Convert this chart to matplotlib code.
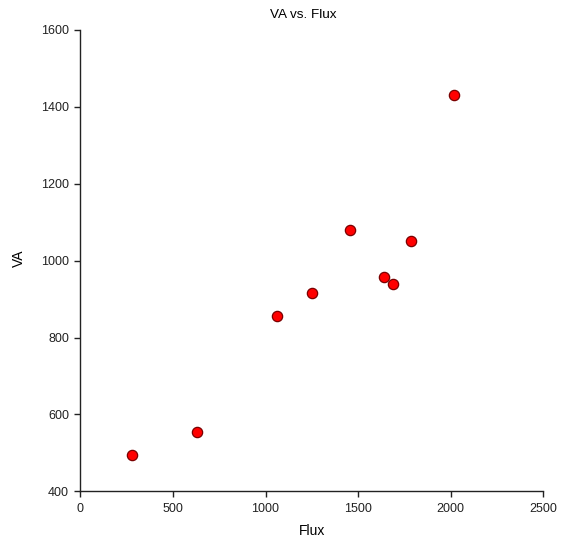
import matplotlib
matplotlib.use("Agg")
import matplotlib.pyplot as plt

flux = [281, 628, 1060, 1251, 1456, 1640, 1690, 1785, 2018]
va = [494, 555, 857, 917, 1080, 958, 940, 1050, 1432]

x_ticks = [0, 500, 1000, 1500, 2000, 2500]
y_ticks = [400, 600, 800, 1000, 1200, 1400, 1600]

plt.rcParams['font.family'] = ['Liberation Sans', 'DejaVu Sans']

W, H = 566, 544
fig = plt.figure(figsize=(W / 100, H / 100), dpi=100)
left, right, bottom, top = 80.3, 543.3, 491.3, 30.0
ax = fig.add_axes([left / W, 1 - bottom / H, (right - left) / W, (bottom - top) / H])

ax.scatter(flux, va, s=55, facecolor='#FF0000', edgecolor='#7A0000', linewidth=0.9, zorder=3, clip_on=False)

ax.set_xlim(0, 2500)
ax.set_ylim(400, 1600)
ax.set_xticks(x_ticks)
ax.set_yticks(y_ticks)
ax.tick_params(axis='both', direction='out', length=4.5, width=1, labelsize=9, colors='#222222', pad=3.6)
for s in ['top', 'right']:
    ax.spines[s].set_visible(False)
for s in ['left', 'bottom']:
    ax.spines[s].set_linewidth(1)
    ax.spines[s].set_color('#222222')

aw, ah = right - left, bottom - top
ax.set_xlabel('Flux', fontsize=10)
ax.xaxis.label.set_va('center')
ax.xaxis.set_label_coords(0.5, -(531 - bottom) / ah)
ax.set_ylabel('VA', fontsize=10)
ax.yaxis.label.set_va('center')
ax.yaxis.set_label_coords(-(left - 19) / aw, (bottom - 258) / ah)

fig.text(303.7 / W, 1 - 15 / H, 'VA vs. Flux', fontsize=9.7, ha='center', va='center')

fig.savefig('out.png', dpi=100)
